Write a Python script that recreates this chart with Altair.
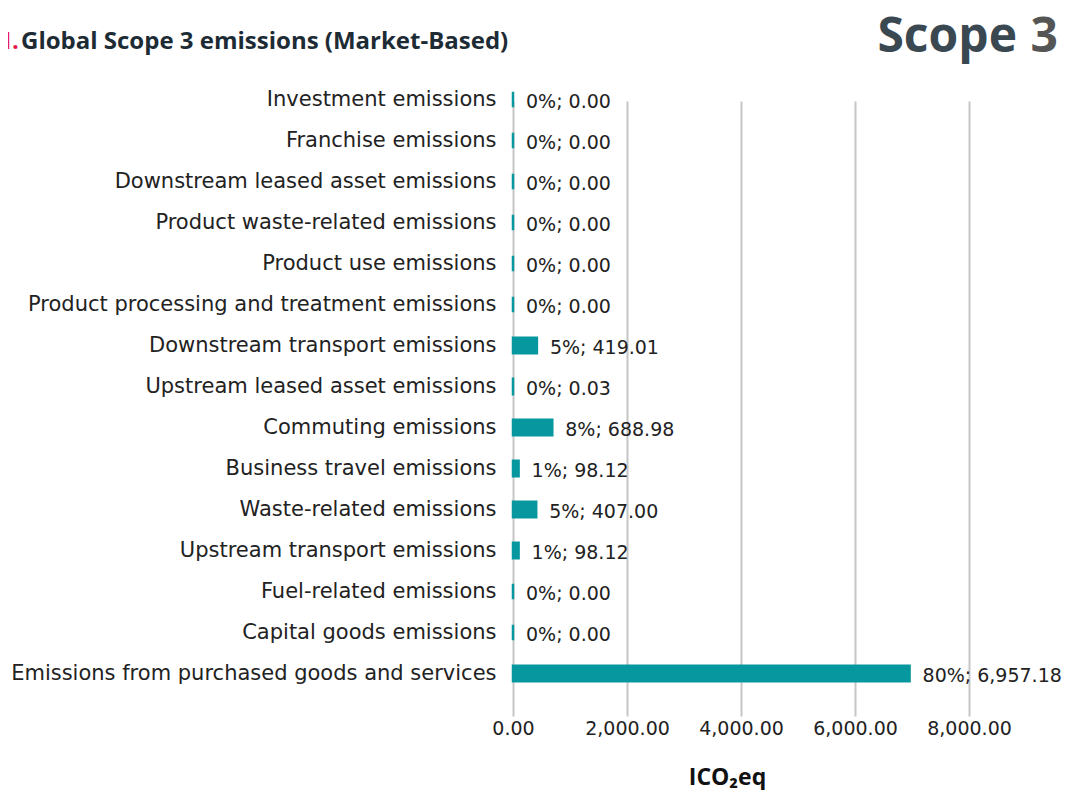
import altair as alt
import pandas as pd

categories = [
    "Investment emissions",
    "Franchise emissions",
    "Downstream leased asset emissions",
    "Product waste-related emissions",
    "Product use emissions",
    "Product processing and treatment emissions",
    "Downstream transport emissions",
    "Upstream leased asset emissions",
    "Commuting emissions",
    "Business travel emissions",
    "Waste-related emissions",
    "Upstream transport emissions",
    "Fuel-related emissions",
    "Capital goods emissions",
    "Emissions from purchased goods and services",
]
values = [0.00, 0.00, 0.00, 0.00, 0.00, 0.00, 419.01, 0.03, 688.98, 98.12,
          407.00, 98.12, 0.00, 0.00, 6957.18]
percents = ["0%", "0%", "0%", "0%", "0%", "0%", "5%", "0%", "8%", "1%",
            "5%", "1%", "0%", "0%", "80%"]
x_ticks = [0, 2000, 4000, 6000, 8000]

df = pd.DataFrame({"category": categories, "value": values, "pct": percents})
df["label"] = [f"{p}; {v:,.2f}" for p, v in zip(percents, values)]

TEAL = "#07979f"
FONT = "DejaVu Sans"

y_enc = alt.Y(
    "category:N",
    sort=categories,
    scale=alt.Scale(range=[-11, 604], paddingInner=0.62, paddingOuter=0.31),
    axis=alt.Axis(title=None, domain=False, ticks=False, grid=False,
                  labelFont=FONT, labelFontSize=21, labelColor="#222222",
                  labelPadding=17, labelLimit=600),
)
x_enc = alt.X(
    "value:Q",
    scale=alt.Scale(domain=[0, 8000], nice=False),
    axis=alt.Axis(values=x_ticks, format=",.2f", domain=False, ticks=False,
                  grid=True, gridColor="#c6c6c6", gridWidth=2,
                  labelFont=FONT, labelFontSize=19, labelColor="#222222",
                  labelPadding=14, labelOverlap=False, labelFlush=False,
                  title="ICO₂eq", titleFont="Open Sans", titleFontSize=23,
                  titleFontWeight="bold", titleColor="#111111",
                  titleX=214, titleY=79, titleBaseline="alphabetic"),
)

base = alt.Chart(df)
bars = base.mark_bar(color=TEAL, stroke=TEAL, strokeWidth=2.5).encode(x=x_enc, y=y_enc)
labels = base.mark_text(align="left", baseline="middle", dx=13, dy=2,
                        font=FONT, fontSize=19, color="#222222").encode(
    x="value:Q", y=alt.Y("category:N", sort=categories), text="label:N")

hdr = pd.DataFrame({"t": ["x"]})
title_one = alt.Chart(hdr).mark_text(text="1", align="right", baseline="alphabetic",
                                     font="Open Sans", fontSize=24, fontWeight="bold",
                                     color="#e8194a").encode(x=alt.value(-500), y=alt.value(-41))
title_dot = alt.Chart(hdr).mark_text(text=".", align="left", baseline="alphabetic",
                                     font="Open Sans", fontSize=24, fontWeight="bold",
                                     color="#e8194a").encode(x=alt.value(-501), y=alt.value(-41))
title_main = alt.Chart(hdr).mark_text(text="Global Scope 3 emissions (Market-Based)",
                                      align="left", baseline="alphabetic",
                                      font="Open Sans", fontSize=24, fontWeight="bold",
                                      color="#1d2b35").encode(x=alt.value(-492), y=alt.value(-41))
scope_word = alt.Chart(hdr).mark_text(text="Scope", align="right", baseline="alphabetic",
                                      font="Open Sans", fontSize=48, fontWeight="bold",
                                      color="#3a4852").encode(x=alt.value(504), y=alt.value(-38))
scope_num = alt.Chart(hdr).mark_text(text="3", align="right", baseline="alphabetic",
                                     font="Open Sans", fontSize=48, fontWeight="bold",
                                     color="#555555").encode(x=alt.value(545), y=alt.value(-38))

chart = alt.layer(bars, labels, title_one, title_dot, title_main, scope_word, scope_num).properties(
    width=456, height=615,
    autosize=alt.AutoSizeParams(type="none"),
    padding={"left": 505, "top": 82, "right": 95, "bottom": 85},
    background="white",
).configure_view(stroke=None)

chart.save("out.html", embed_options={"renderer": "svg", "actions": False})
